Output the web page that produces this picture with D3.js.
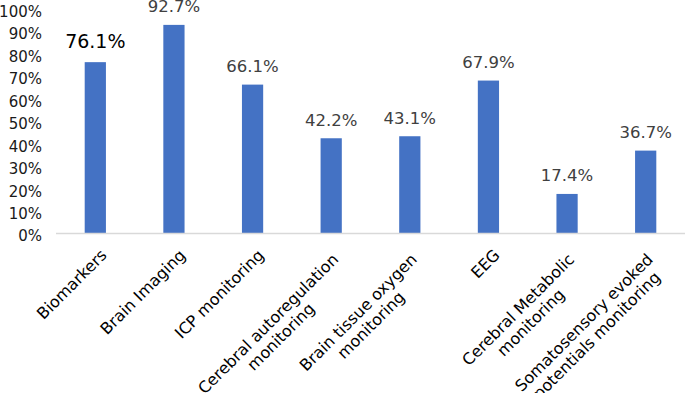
<!DOCTYPE html>
<html>
<head>
<meta charset="utf-8">
<script src="https://cdn.jsdelivr.net/npm/d3@7"></script>
<style>
  body { margin: 0; background: #fff; }
  svg { display: block; font-family: "DejaVu Sans", sans-serif; }
</style>
</head>
<body>
<svg id="chart"></svg>
<script>
// data
const categories = [
    ['Biomarkers'],
    ['Brain Imaging'],
    ['ICP monitoring'],
    ['Cerebral autoregulation', 'monitoring'],
    ['Brain tissue oxygen', 'monitoring'],
    ['EEG'],
    ['Cerebral Metabolic', 'monitoring'],
    ['Somatosensory evoked', 'potentials monitoring']
];
const values = [76.1, 92.7, 66.1, 42.2, 43.1, 67.9, 17.4, 36.7];
const yTicks = [0, 10, 20, 30, 40, 50, 60, 70, 80, 90, 100];

const width = 685, height = 393;
const margin = { top: 8.5, right: 0, bottom: 160, left: 56 };

const svg = d3.select('#chart')
    .attr('width', width)
    .attr('height', height);

const x = d3.scaleBand()
    .domain(d3.range(values.length))
    .range([margin.left, width - margin.right])
    .paddingInner(0.73)
    .paddingOuter(0.365);

const y = d3.scaleLinear()
    .domain([0, 100])
    .range([height - margin.bottom, margin.top]);

// y tick labels
svg.append('g')
    .selectAll('text')
    .data(yTicks)
    .join('text')
    .attr('x', 42)
    .attr('y', d => y(d) + 3)
    .attr('dy', '0.36em')
    .attr('text-anchor', 'end')
    .attr('font-size', 15)
    .attr('fill', '#1a1a1a')
    .text(d => d + '%');

// bars
svg.append('g')
    .selectAll('rect')
    .data(values)
    .join('rect')
    .attr('x', (d, i) => x(i))
    .attr('y', d => y(d))
    .attr('width', x.bandwidth())
    .attr('height', d => y(0) - y(d))
    .attr('fill', '#4472C4');

// axis line
svg.append('line')
    .attr('x1', margin.left)
    .attr('x2', width)
    .attr('y1', y(0) + 0.5)
    .attr('y2', y(0) + 0.5)
    .attr('stroke', '#d9d9d9')
    .attr('stroke-width', 1.5);

// value labels
svg.append('g')
    .selectAll('text')
    .data(values)
    .join('text')
    .attr('x', (d, i) => x(i) + x.bandwidth() / 2)
    .attr('y', (d, i) => y(d) - (i === 0 ? 14 : 12.5))
    .attr('text-anchor', 'middle')
    .attr('font-size', (d, i) => i === 0 ? 19 : 16.5)
    .attr('fill', (d, i) => i === 0 ? '#000' : '#404040')
    .text(d => d.toFixed(1) + '%');

// category labels, rotated
const lineH = 18;
const labels = svg.append('g')
    .selectAll('g')
    .data(categories)
    .join('g')
    .attr('transform', (d, i) => `translate(${x(i) + x.bandwidth() / 2 + 2.5},${246.3}) rotate(-45)`);

labels.each(function(lines) {
    const g = d3.select(this);
    const shift = lines.length > 1 ? -6 : 0;
    const texts = g.selectAll('text')
        .data(lines)
        .join('text')
        .attr('y', (d, j) => 14 + j * lineH)
        .attr('font-size', 16)
        .attr('fill', '#000')
        .text(d => d);
    let maxW = 0;
    texts.each(function() { maxW = Math.max(maxW, this.getComputedTextLength()); });
    texts.attr('x', shift - maxW / 2).attr('text-anchor', 'middle');
});
</script>
</body>
</html>
